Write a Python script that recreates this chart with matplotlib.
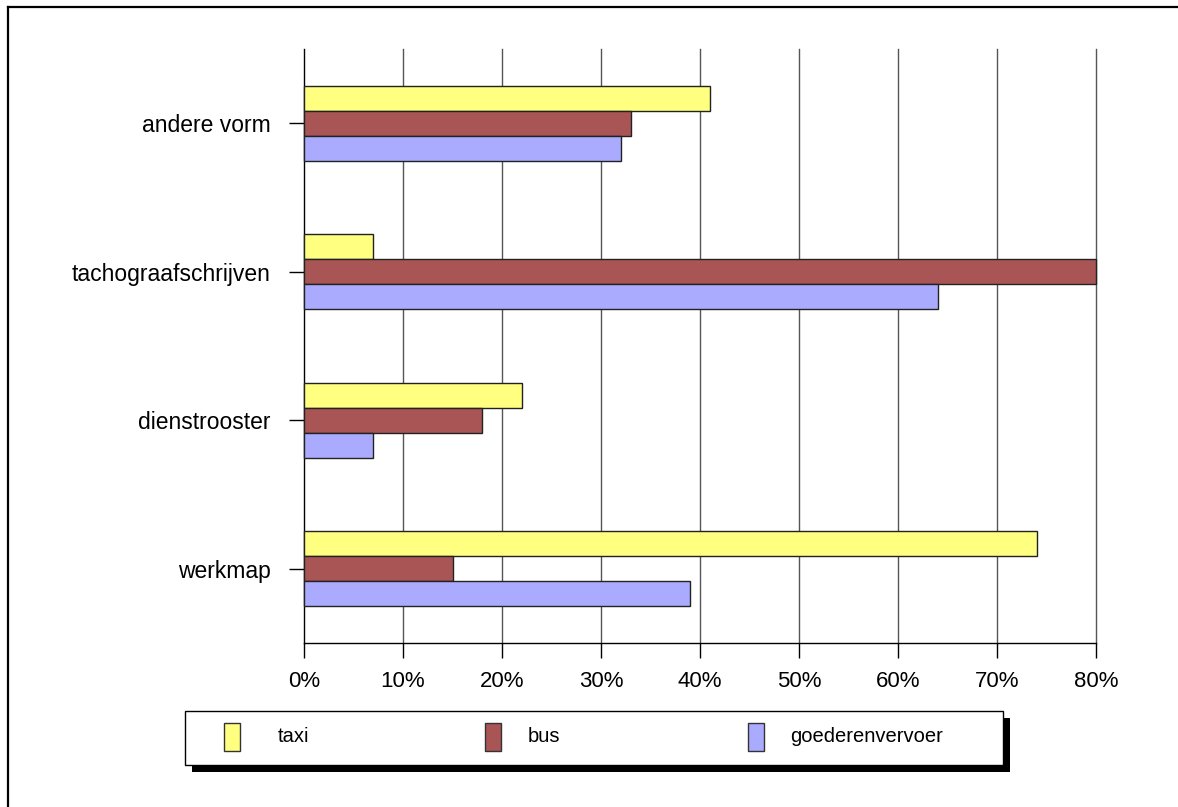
import matplotlib
matplotlib.use("Agg")
import matplotlib.pyplot as plt
from matplotlib.patches import Rectangle
from matplotlib.lines import Line2D
import numpy as np

plt.rcParams['font.family'] = ['Liberation Sans', 'DejaVu Sans']

categories = ["werkmap", "dienstrooster", "tachograafschrijven", "andere vorm"]
series_names = ["taxi", "bus", "goederenvervoer"]
taxi = [74, 22, 7, 41]
bus = [15, 18, 80, 33]
goederenvervoer = [39, 7, 64, 32]
xtick_values = [0, 10, 20, 30, 40, 50, 60, 70, 80]

colors = ["#FFFF80", "#AA5555", "#AAAAFF"]

W, H = 1178, 807
fig = plt.figure(figsize=(W / 100, H / 100), dpi=100)
fig.patch.set_facecolor("white")

ax = fig.add_axes([304 / W, 1 - 643 / H, (1096 - 304) / W, (643 - 49) / H])

y = np.arange(len(categories))
bar_h = 0.168
series = [taxi, bus, goederenvervoer]
for i, (vals, col) in enumerate(zip(series, colors)):
    offset = (1 - i) * bar_h
    bars = ax.barh(y + offset, vals, height=bar_h, color=col, edgecolor="#222222",
                   linewidth=1.0, zorder=3)
    for b in bars:
        b.set_clip_on(False)

ax.set_xlim(0, 80)
ax.set_ylim(-0.5, len(categories) - 0.5)
ax.set_xticks(xtick_values)
ax.set_xticklabels([f"{v}%" for v in xtick_values], fontsize=16)
ax.set_yticks(y)
ax.set_yticklabels(categories, fontsize=16.5)

for v in xtick_values[1:]:
    ax.axvline(v, color="#555555", linewidth=1.0, zorder=1, clip_on=False)

for s in ["top", "right"]:
    ax.spines[s].set_visible(False)
for s in ["left", "bottom"]:
    ax.spines[s].set_color("black")
    ax.spines[s].set_linewidth(1.0)
ax.tick_params(axis="x", direction="out", length=11, width=1, pad=9, colors="black")
ax.tick_params(axis="y", direction="out", length=11, width=1, pad=13, colors="black")

# figure frame: top and left edges
fig.add_artist(Line2D([8 / W, 1.0], [1 - 7 / H, 1 - 7 / H], transform=fig.transFigure,
                      color="black", linewidth=1.6))
fig.add_artist(Line2D([8 / W, 8 / W], [1 - 7 / H, 0.0], transform=fig.transFigure,
                      color="black", linewidth=1.6))

# legend box with drop shadow
def px_rect(x0, y0, x1, y1, **kw):
    return Rectangle((x0 / W, 1 - y1 / H), (x1 - x0) / W, (y1 - y0) / H,
                     transform=fig.transFigure, **kw)

fig.add_artist(px_rect(192, 718, 1010, 772, facecolor="black", edgecolor="none"))
fig.add_artist(px_rect(185, 711, 1003, 765, facecolor="white", edgecolor="black",
                       linewidth=1.0))

patch_x = [224, 485, 748]
text_x = [278, 528, 790]
for name, col, px, tx in zip(series_names, colors, patch_x, text_x):
    fig.add_artist(px_rect(px, 723, px + 16, 751, facecolor=col, edgecolor="#333333",
                           linewidth=1.0))
    fig.text(tx / W, 1 - 737 / H, name, fontsize=14.5, va="center", ha="left")

fig.savefig("out.png", dpi=100, facecolor="white")
